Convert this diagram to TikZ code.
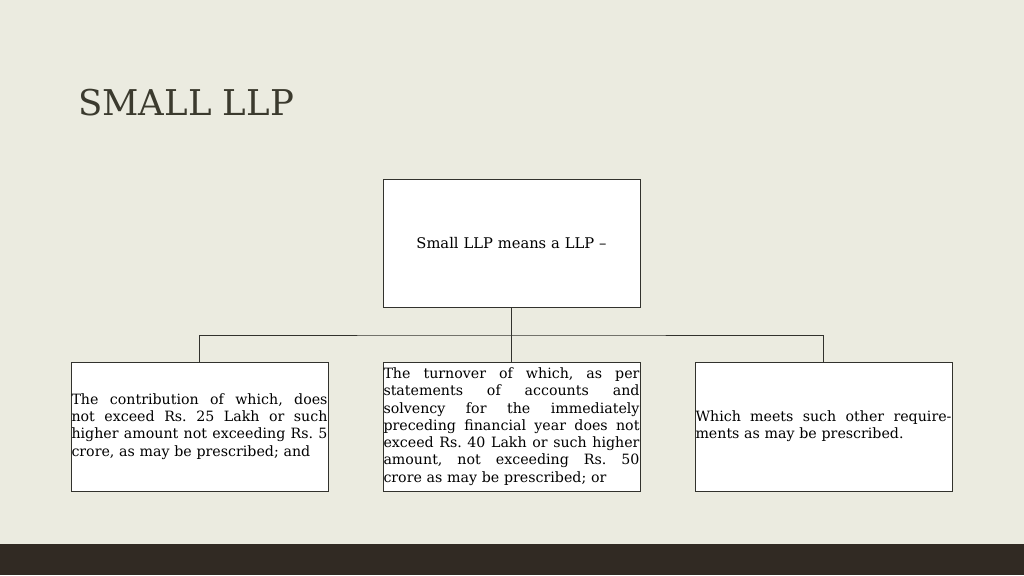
\documentclass[tikz,border=0pt]{standalone}
\usepackage{fontspec}
\setmainfont{DejaVu Serif}
\frenchspacing
\definecolor{bg}{RGB}{235,235,224}
\definecolor{bar}{RGB}{49,42,35}
\definecolor{titlecol}{RGB}{59,58,46}
\definecolor{edge}{RGB}{50,50,45}
\newcommand\fullline[1]{\leavevmode\hbox to 256pt{\spaceskip=0.3em plus 1fil\relax #1}\\}
\tikzset{
  box/.style={draw=edge, line width=0.8pt, fill=white, minimum width=257pt, minimum height=129pt,
    inner xsep=0.5pt, inner ysep=0pt, text width=256pt, font=\fontsize{14.2}{17.3}\selectfont},
  leafbox/.style={box, align=left},
  link/.style={draw=edge, line width=0.8pt}
}
\begin{document}
\begin{tikzpicture}[x=1pt,y=-1pt]
\fill[bg] (0,0) rectangle (1024,575);
\fill[bar] (0,544) rectangle (1024,575);
\useasboundingbox (0,0) rectangle (1024,575);
\node[anchor=base west, text=titlecol, font=\fontsize{35.5}{40}\selectfont, inner sep=0pt] (title) at (78,115) {SMALL LLP};
\node[box, align=center, minimum height=128pt, font=\fontsize{14.7}{17.3}\selectfont] (top) at (511.5,243) {Small LLP means a LLP --};
\node[leafbox] (b1) at (199.5,426.5) {\fullline{The contribution of which, does}%
\fullline{not exceed Rs. 25 Lakh or such}%
\fullline{higher amount not exceeding Rs. 5}%
crore, as may be prescribed; and};
\node[leafbox] (b2) at (511.5,426.5) {\fullline{The turnover of which, as per}%
\fullline{statements of accounts and}%
\fullline{solvency for the immediately}%
\fullline{preceding financial year does not}%
\fullline{exceed Rs. 40 Lakh or such higher}%
\fullline{amount, not exceeding Rs. 50}%
crore as may be prescribed; or};
\node[leafbox] (b3) at (823.5,426.5) {\fullline{Which meets such other require-}%
ments as may be prescribed.};
\coordinate (j) at (511.5,335);
\draw[link] (top.south) -- (j);
\draw[link] (b1.north) |- (j) -| (b3.north);
\draw[link] (j) -- (b2.north);
\end{tikzpicture}
\end{document}
